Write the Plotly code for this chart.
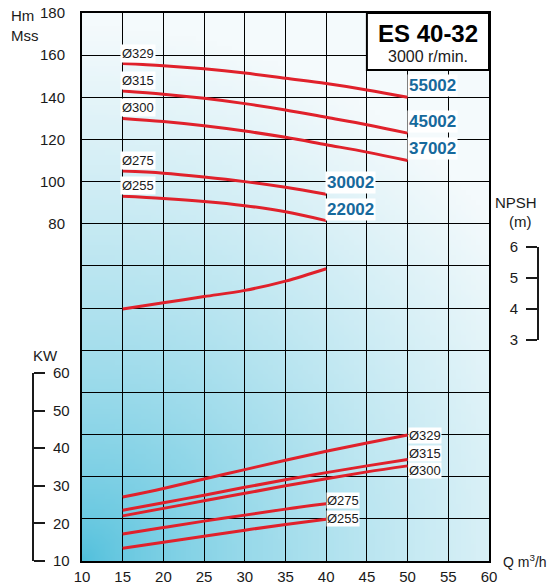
"""ES 40-32 pump curves (3000 r/min): head, NPSH and power vs flow."""

import base64
import math
import struct
import zlib

import plotly.graph_objects as go

# ---- data ----
diameters = ["Ø329", "Ø315", "Ø300", "Ø275", "Ø255"]
models = ["55002", "45002", "37002", "30002", "22002"]

q_long = [15, 20, 25, 30, 35, 40, 45, 50]
q_short = [15, 20, 25, 30, 35, 40]

head_329 = [156, 155, 153.5, 151.5, 149, 146.5, 143.5, 140]
head_315 = [143, 141.5, 139.5, 137, 134, 130.5, 127, 123]
head_300 = [130, 128.5, 126.5, 124, 121, 117.5, 114, 110]
head_275 = [105, 104, 102.2, 100, 97.3, 94]
head_255 = [93, 92, 90.6, 88.6, 85.7, 81.5]

kw_329 = [27, 29.3, 31.8, 34.3, 36.8, 39.2, 41.4, 43.5]
kw_315 = [23.5, 25.5, 27.5, 29.6, 31.6, 33.5, 35.3, 37]
kw_300 = [22, 24, 26, 28, 30, 31.9, 33.7, 35.3]
kw_275 = [17.2, 18.9, 20.6, 22.2, 23.8, 25.2]
kw_255 = [13.4, 15, 16.6, 18.2, 19.7, 21.1]

npsh = [4.0, 4.2, 4.4, 4.6, 4.9, 5.3]

x_ticks = [10, 15, 20, 25, 30, 35, 40, 45, 50, 55, 60]
hm_ticks = [80, 100, 120, 140, 160, 180]
kw_ticks = [10, 20, 30, 40, 50, 60]
npsh_ticks = [3, 4, 5, 6]

W, H = 549, 588
FONT = "Liberation Sans, Arial, sans-serif"
RED = "#e0212b"
BLUE = "#17699c"
INK = "#1a1a1a"


def _gradient_png(w, h):
    """Small PNG: cyan in the bottom-left corner fading to white top-right."""
    c0 = (80, 192, 220)
    c1 = (244, 250, 252)
    rows = []
    for j in range(h):
        v = 1 - j / (h - 1)
        row = bytearray([0])
        for i in range(w):
            u = i / (w - 1)
            d = math.sqrt(u * u + (v / 0.75) ** 2)
            t = min(1.0, d / 1.3) ** 0.7
            row += bytes(int(a + (b - a) * t) for a, b in zip(c0, c1))
        rows.append(bytes(row))

    def chunk(tag, data):
        body = tag + data
        return struct.pack(">I", len(data)) + body + struct.pack(">I", zlib.crc32(body) & 0xFFFFFFFF)

    png = b"\x89PNG\r\n\x1a\n"
    png += chunk(b"IHDR", struct.pack(">IIBBBBB", w, h, 8, 2, 0, 0, 0))
    png += chunk(b"IDAT", zlib.compress(b"".join(rows), 9))
    png += chunk(b"IEND", b"")
    return "data:image/png;base64," + base64.b64encode(png).decode()


# pixel helpers for paper coordinates (margins l=r=0, t=13, b=27)
def px(x):
    return x / W


def py(y):
    return (561 - y) / 548


fig = go.Figure()

heads = [(q_long, head_329), (q_long, head_315), (q_long, head_300),
         (q_short, head_275), (q_short, head_255)]
powers = [(q_long, kw_329), (q_long, kw_315), (q_long, kw_300),
          (q_short, kw_275), (q_short, kw_255)]

for (q, hv), name in zip(heads, diameters):
    fig.add_trace(go.Scatter(x=q, y=hv, mode="lines", name=name,
                             line=dict(color=RED, width=3, shape="spline"),
                             xaxis="x", yaxis="y"))

for (q, kv), name in zip(powers, diameters):
    fig.add_trace(go.Scatter(x=q, y=kv, mode="lines", name=name,
                             line=dict(color=RED, width=3, shape="spline"),
                             xaxis="x", yaxis="y2"))

fig.add_trace(go.Scatter(x=q_short, y=npsh, mode="lines", name="NPSH",
                         line=dict(color=RED, width=3, shape="spline"),
                         xaxis="x", yaxis="y3"))

ann = []
# diameter labels above the start of each head curve
for (q, hv), name in zip(heads, diameters):
    ann.append(dict(x=q[0], y=hv[0] + 5, xref="x", yref="y", text=name,
                    xanchor="left", yanchor="middle", xshift=-3, showarrow=False,
                    bgcolor="white", borderpad=1,
                    font=dict(family=FONT, size=13, color=INK)))
# model labels at the end of each head curve
for (q, hv), name in zip(heads, models):
    ann.append(dict(x=q[-1] + 3, y=hv[-1] + 5.5, xref="x", yref="y", text=f"<b>{name}</b>",
                    xanchor="center", yanchor="middle", showarrow=False,
                    bgcolor="white", borderpad=1,
                    font=dict(family=FONT, size=17, color=BLUE)))
# diameter labels at the end of each power curve
shifts = [0, 6, -5, 3, 1]
for (q, kv), name, s in zip(powers, diameters, shifts):
    ann.append(dict(x=q[-1], y=kv[-1], xref="x", yref="y2", text=name,
                    xanchor="left", yanchor="middle", yshift=s, showarrow=False,
                    bgcolor="white", borderpad=0,
                    font=dict(family=FONT, size=13, color=INK)))

# title box texts
ann.append(dict(x=52.5, y=170.3, xref="x", yref="y", text="<b>ES 40-32</b>",
                showarrow=False, font=dict(family=FONT, size=24, color="black")))
ann.append(dict(x=52.5, y=159.2, xref="x", yref="y", text="3000 r/min.",
                showarrow=False, font=dict(family=FONT, size=16, color=INK)))

# axis titles
for text, x, y, anchor, size in [("Hm", 9, 15, "left", 15), ("Mss", 9, 36, "left", 15),
                                 ("KW", 31, 355, "left", 15),
                                 ("NPSH", 516, 202, "center", 15),
                                 ("(m)", 520, 222, "center", 15),
                                 ("Q m<sup>3</sup>/h", 501, 561, "left", 14)]:
    ann.append(dict(x=px(x), y=py(y), xref="paper", yref="paper", text=text,
                    xanchor=anchor, yanchor="middle", showarrow=False,
                    font=dict(family=FONT, size=size, color=INK)))

fig.update_layout(
    width=W,
    height=H,
    margin=dict(l=0, r=0, t=13, b=27, pad=0, autoexpand=False),
    paper_bgcolor="white",
    plot_bgcolor="rgba(0,0,0,0)",
    showlegend=False,
    font=dict(family=FONT, color=INK),
    xaxis=dict(
        domain=[px(82), px(489)],
        range=[10, 60],
        tickvals=x_ticks,
        showgrid=True, gridcolor="black", gridwidth=1.3,
        showline=True, linecolor="black", linewidth=2, mirror=True,
        ticks="", ticklabelstandoff=1,
        tickfont=dict(family=FONT, size=15, color=INK),
        zeroline=False, fixedrange=True, automargin=False,
    ),
    yaxis=dict(
        domain=[0, 1],
        range=[-80, 180],
        tickvals=list(range(-80, 181, 20)),
        ticktext=[str(v) if v in hm_ticks else " " for v in range(-80, 181, 20)],
        showgrid=True, gridcolor="black", gridwidth=1.3,
        showline=True, linecolor="black", linewidth=2, mirror=True,
        ticks="", ticklabelstandoff=12,
        tickfont=dict(family=FONT, size=15, color=INK),
        zeroline=False, fixedrange=True, automargin=False,
    ),
    yaxis2=dict(
        domain=[0, py(373)],
        range=[10, 60],
        tickvals=kw_ticks,
        anchor="free", position=px(33), side="right",
        showgrid=False, zeroline=False,
        showline=True, linecolor=INK, linewidth=2,
        ticks="outside", ticklen=11, tickwidth=2, tickcolor=INK,
        ticklabelstandoff=5,
        tickfont=dict(family=FONT, size=15, color=INK),
        fixedrange=True, automargin=False,
    ),
    yaxis3=dict(
        domain=[py(340), py(247)],
        range=[3, 6],
        tickvals=npsh_ticks,
        anchor="free", position=px(538), side="left",
        showgrid=False, zeroline=False,
        showline=True, linecolor=INK, linewidth=2,
        ticks="outside", ticklen=11, tickwidth=2, tickcolor=INK,
        ticklabelstandoff=5,
        tickfont=dict(family=FONT, size=15, color=INK),
        fixedrange=True, automargin=False,
    ),
    images=[dict(source=_gradient_png(80, 110), xref="x", yref="y",
                 x=10, y=180, sizex=50, sizey=260, sizing="stretch",
                 layer="below", opacity=1)],
    shapes=[dict(type="rect", xref="x", yref="y", x0=45, x1=60, y0=153, y1=180,
                 fillcolor="white", line=dict(color="black", width=2), layer="above")],
    annotations=ann,
)

# the page's default 8px body margin would push the figure off the window
fig.write_html("out.html", config={"displayModeBar": False},
               post_script="document.body.style.margin = '0';")
